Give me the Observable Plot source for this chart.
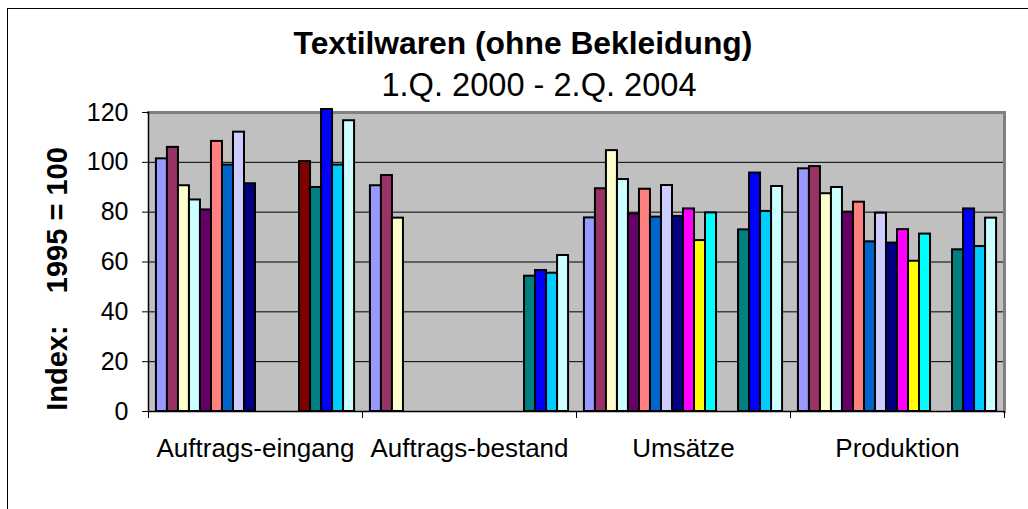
<!DOCTYPE html>
<html>
<head>
<meta charset="utf-8">
<script src="https://cdn.jsdelivr.net/npm/d3@7"></script>
<script src="https://cdn.jsdelivr.net/npm/@observablehq/plot@0.6"></script>
<style>
  html, body { margin: 0; padding: 0; background: #fff; }
  body { width: 1028px; height: 509px; overflow: hidden; position: relative;
         font-family: "Liberation Sans", Arial, sans-serif; color: #000; }
  #outer { position: absolute; left: 7px; top: 8px; width: 1100px; height: 600px;
           border: 1.5px solid #000; box-sizing: border-box; }
  #title { position: absolute; left: 0; width: 1046px; top: 28px; text-align: center;
           font-weight: bold; font-size: 31.8px; line-height: 1; white-space: nowrap; }
  #subtitle { position: absolute; left: 0; width: 1078px; top: 69px; text-align: center;
              font-size: 32.6px; line-height: 1; white-space: nowrap; }
  #chart { position: absolute; left: 0; top: 100px; }
  #chart svg text { white-space: pre; }
</style>
</head>
<body>
<div id="outer"></div>
<div id="title">Textilwaren (ohne Bekleidung)</div>
<div id="subtitle">1.Q. 2000 - 2.Q. 2004</div>
<div id="chart"></div>
<script>
// ---- data ----
const categories = ["Auftrags-eingang", "Auftrags-bestand", "Umsätze", "Produktion"];
const quarters = [
  "1.Q. 2000", "2.Q. 2000", "3.Q. 2000", "4.Q. 2000",
  "1.Q. 2001", "2.Q. 2001", "3.Q. 2001", "4.Q. 2001",
  "1.Q. 2002", "2.Q. 2002", "3.Q. 2002", "4.Q. 2002",
  "1.Q. 2003", "2.Q. 2003", "3.Q. 2003", "4.Q. 2003",
  "1.Q. 2004", "2.Q. 2004"
];
const auftragseingang = [101.4, 106.0, 90.6, 84.9, 80.9, 108.4, 98.9, 112.1, 91.4, null, null, null, null, 100.3, 89.9, 121.2, 98.9, 116.7];
const auftragsbestand = [90.6, 94.7, 77.6, null, null, null, null, null, null, null, null, null, null, null, 54.3, 56.6, 55.5, 62.6];
const umsaetze        = [77.7, 89.4, 104.7, 93.1, 79.3, 89.2, 78.0, 90.7, 78.3, 81.3, 68.6, 79.7, null, null, 72.9, 95.7, 80.3, 90.3];
const produktion      = [97.4, 98.3, 87.4, 89.9, 80.0, 84.0, 68.1, 79.6, 67.6, 73.0, 60.3, 71.2, null, null, 64.9, 81.3, 66.2, 77.6];
const palette = [
  "#9999FF", "#993366", "#FFFFCC", "#CCFFFF", "#660066", "#FF8080",
  "#0066CC", "#CCCCFF", "#000080", "#FF00FF", "#FFFF00", "#00FFFF",
  "#800080", "#800000", "#008080", "#0000FF", "#00CCFF", "#CCFFFF"
];
const yTicks = [0, 20, 40, 60, 80, 100, 120];
const yLabel = "Index:    1995 = 100";

// ---- build table ----
const seriesByCategory = [auftragseingang, auftragsbestand, umsaetze, produktion];
const data = categories.flatMap((cat, ci) =>
  quarters.map((q, qi) => ({cat, q, v: seriesByCategory[ci][qi]}))
).filter(d => d.v != null);

const W = 1028, H = 409, mL = 148, mR = 24, mT = 12, mB = 98;
const halfBand = (W - mL - mR) / categories.length / 2;

const chart = Plot.plot({
  width: W, height: H,
  marginLeft: mL, marginRight: mR, marginTop: mT, marginBottom: mB,
  style: {fontFamily: "'Liberation Sans', Arial, sans-serif", fontSize: "25px", color: "#000", background: "none", overflow: "visible"},
  fx: {domain: categories, padding: 0, round: false},
  x: {domain: quarters, paddingInner: 0, paddingOuter: 0.72, round: false, axis: null},
  y: {domain: [0, 120]},
  color: {domain: quarters, range: palette},
  marks: [
    Plot.frame({fill: "#C0C0C0", stroke: "#C0C0C0", strokeWidth: 1}),
    Plot.gridY({ticks: yTicks.slice(1, -1), stroke: "#000", strokeOpacity: 1, strokeWidth: 1}),
    Plot.frame({anchor: "top", stroke: "#808080", strokeWidth: 3}),
    Plot.frame({anchor: "right", stroke: "#808080", strokeWidth: 3, facetAnchor: "right"}),
    Plot.barY(data, {fx: "cat", x: "q", y: "v", fill: "q", stroke: "#000", strokeWidth: 2}),
    Plot.ruleY([0], {stroke: "#000", strokeWidth: 1.5}),
    Plot.frame({anchor: "left", stroke: "#000", strokeWidth: 1.5, facetAnchor: "left"}),
    Plot.axisY({ticks: yTicks, tickSize: 6, tickPadding: 14, fontSize: 25, label: null}),
    Plot.text([yLabel], {frameAnchor: "left", textAnchor: "middle", rotate: -90, dx: -91, dy: 17, fontWeight: "bold", fontSize: 29, facetAnchor: "left"}),
    Plot.axisFx({anchor: "bottom", tickSize: 0, tickPadding: 27, fontSize: 26, label: null}),
    Plot.axisFx({anchor: "bottom", tickSize: 7, tickFormat: () => "", dx: -halfBand, label: null}),
    Plot.axisFx({anchor: "bottom", ticks: [categories[categories.length - 1]], tickSize: 7, tickFormat: () => "", dx: halfBand, label: null})
  ]
});
document.getElementById("chart").appendChild(chart);
</script>
</body>
</html>
